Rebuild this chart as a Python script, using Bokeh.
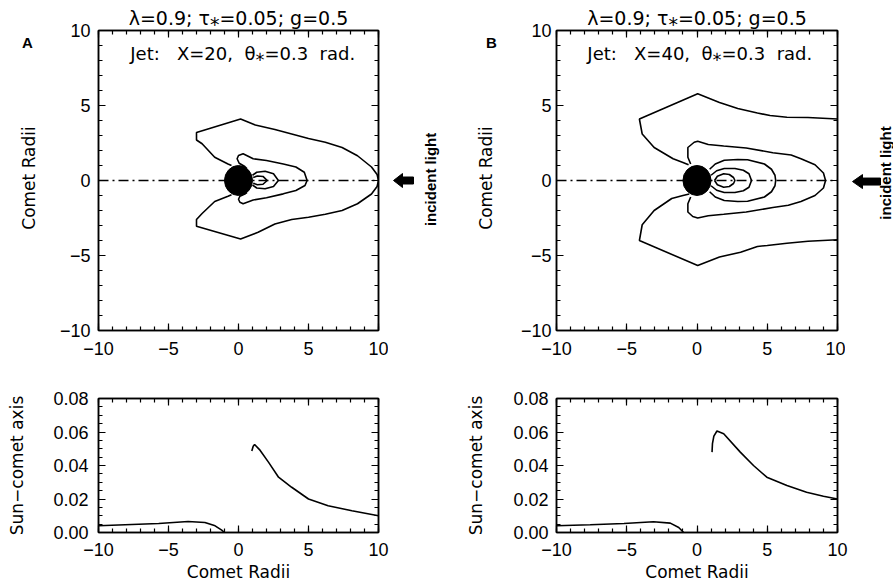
import math
from bokeh.plotting import figure
from bokeh.layouts import column, row
from bokeh.models import (FixedTicker, LinearAxis, Label, Span, Range1d, Title,
                          CustomJSTickFormatter)
from bokeh.embed import file_html
from bokeh.resources import INLINE

# ---------------- data ----------------
x_major = [-10, -5, 0, 5, 10]
x_minor = list(range(-10, 11))
y_top_major = [-10, -5, 0, 5, 10]
y_top_minor = list(range(-10, 11))
y_bot_major = [0.0, 0.02, 0.04, 0.06, 0.08]
y_bot_minor = [0.005 * i for i in range(17)]

NB = "\u00a0"
panel_letters = ["A", "B"]
title_text = "λ=0.9; τ⁎=0.05; g=0.5"
jet_texts = ["Jet:" + NB * 3 + "X=20, " + NB + "θ⁎=0.3 " + NB + "rad.",
             "Jet:" + NB * 3 + "X=40, " + NB + "θ⁎=0.3 " + NB + "rad."]
light_text = "incident light"
y_label_top = "Comet Radii"
y_label_bot = "Sun\u2212comet axis"
x_label_bot = "Comet Radii"

nucleus_x = [0.0]
nucleus_y = [0.0]
nucleus_d = [2.0]

# Panel A contours (intensity levels, outer -> inner)
a_c1_x = [-0.5, -0.75, -1.7, -2.6, -3.0, -3.0, 0.15, 1.2, 2.6, 3.8, 5.0, 6.2, 7.4, 8.5, 9.5, 9.9, 10.0,
          9.9, 9.5, 8.5, 7.4, 6.2, 5.0, 3.8, 2.6, 1.4, 0.15, -3.0, -3.0, -2.6, -1.7, -0.75, -0.5]
a_c1_y = [1.0, 1.1, 1.55, 2.45, 2.7, 3.2, 4.1, 3.7, 3.4, 3.1, 2.8, 2.55, 2.2, 1.65, 0.9, 0.4, 0.0,
          -0.4, -0.9, -1.55, -2.0, -2.25, -2.45, -2.6, -2.9, -3.45, -3.9, -3.05, -2.6, -2.2, -1.4, -1.05, -0.95]
a_c2_x = [0.6, 0.45, 0.05, -0.1, 0.0, 0.33, 1.05, 2.0, 3.2, 4.1, 4.7, 4.9,
          4.75, 4.1, 3.2, 2.0, 1.05, 0.33, 0.1, 0.0, 0.1, 0.45, 0.6]
a_c2_y = [0.8, 0.93, 1.15, 1.45, 1.67, 1.78, 1.45, 1.33, 1.1, 0.9, 0.55, 0.0,
          -0.33, -0.67, -0.89, -1.15, -1.3, -1.55, -1.45, -1.25, -1.05, -0.9, -0.8]
a_c3_x = [1.0, 1.3, 1.9, 2.5, 2.85, 2.5, 1.9, 1.3, 1.0]
a_c3_y = [0.35, 0.55, 0.62, 0.45, 0.0, -0.4, -0.55, -0.5, -0.3]
a_c4_x = [1.05, 1.35, 1.75, 2.05, 1.75, 1.35, 1.05]
a_c4_y = [0.2, 0.3, 0.27, 0.0, -0.25, -0.28, -0.18]

# Panel B contours
b_c1u_x = [10.4, 10.0, 7.9, 6.4, 5.2, 4.3, 2.9, 1.6, 0.05, -4.1, -3.9, -3.05, -1.7, -1.0, -0.6]
b_c1u_y = [4.1, 4.1, 4.2, 4.22, 4.33, 4.5, 4.8, 5.2, 5.78, 4.1, 3.1, 2.2, 1.45, 1.2, 1.05]
b_c1l_x = [-0.55, -1.0, -1.8, -3.05, -3.9, -4.1, 0.05, 1.6, 3.1, 4.3, 5.0, 6.4, 7.9, 10.0, 10.4]
b_c1l_y = [-0.9, -1.0, -1.2, -2.0, -2.95, -4.0, -5.67, -5.1, -4.78, -4.4, -4.33, -4.18, -4.05, -3.95, -3.95]
b_c2_x = [-0.45, -0.65, -0.65, -0.2, 0.05, 0.8, 1.9, 3.5, 5.4, 6.7, 7.4, 8.4, 9.0, 9.15,
          9.0, 8.4, 7.4, 6.5, 5.4, 3.5, 1.9, 0.8, 0.05, -0.3, -0.65, -0.65, -0.45]
b_c2_y = [1.1, 1.55, 2.2, 2.55, 2.62, 2.4, 2.3, 2.17, 1.85, 1.7, 1.45, 1.05, 0.5, 0.0,
          -0.5, -1.0, -1.4, -1.65, -1.8, -2.1, -2.25, -2.35, -2.5, -2.4, -2.1, -1.55, -1.1]
b_c3_x = [0.9, 1.3, 1.94, 2.9, 3.6, 4.8, 5.3, 5.55, 5.6, 5.55, 5.3, 4.8, 3.6, 2.9, 1.94, 1.3, 0.9]
b_c3_y = [0.75, 1.1, 1.35, 1.4, 1.38, 1.1, 0.75, 0.35, 0.0, -0.35, -0.75, -1.1, -1.38, -1.4, -1.33, -1.1, -0.75]
b_c4_x = [1.0, 1.4, 1.94, 2.7, 3.3, 3.7, 3.88, 3.7, 3.3, 2.7, 1.94, 1.4, 1.0]
b_c4_y = [0.35, 0.65, 0.8, 0.8, 0.68, 0.45, 0.0, -0.45, -0.68, -0.8, -0.8, -0.65, -0.35]
b_c5_x = [1.25, 1.45, 1.9, 2.3, 2.6, 2.7, 2.6, 2.3, 1.9, 1.45, 1.25]
b_c5_y = [0.0, 0.28, 0.45, 0.4, 0.2, 0.0, -0.2, -0.4, -0.45, -0.28, 0.0]

# Lower panels: brightness along the sun-comet axis
a_left_x = [-10, -8.1, -5.7, -3.6, -2.4, -1.67, -1.2, -1.0]
a_left_y = [0.004, 0.0046, 0.0054, 0.0066, 0.006, 0.004, 0.0014, 0.0]
a_right_x = [0.95, 1.05, 1.15, 1.55, 2.14, 2.86, 3.8, 5.0, 6.4, 8.1, 10.0]
a_right_y = [0.0486, 0.0515, 0.0525, 0.049, 0.042, 0.033, 0.027, 0.020, 0.016, 0.013, 0.010]
b_left_x = [-10, -7.6, -5.2, -3.1, -1.9, -1.3, -0.95]
b_left_y = [0.004, 0.0046, 0.0054, 0.0064, 0.0056, 0.003, 0.0]
b_right_x = [1.07, 1.1, 1.2, 1.42, 1.9, 3.08, 4.02, 4.97, 6.4, 7.8, 9.0, 10.0]
b_right_y = [0.048, 0.053, 0.0575, 0.0606, 0.059, 0.048, 0.040, 0.033, 0.028, 0.024, 0.0216, 0.020]

# ---------------- styling helpers ----------------
TICK_FONT = "Liberation Sans"
TEXT_FONT = "DejaVu Sans"
LW = 1.6
TOP_BT, TOP_BB, TOP_H = 30, 34, 364
PX = 15.0                       # pixels per comet radius (vertical) in the upper panels
STRIP_Y = (-(TOP_H - TOP_BT - 150) / PX, (TOP_BT + 150) / PX)   # whole-strip range, 0 at axis

minus_fmt = "return tick < 0 ? '\u2212' + Math.abs(tick) : tick.toString();"
fixed2_fmt = "return tick.toFixed(2);"


def make_axis(ticks, minor, fmt, show_labels, label=None, label_standoff=5, tick_standoff=8):
    ax = LinearAxis(ticker=FixedTicker(ticks=ticks, minor_ticks=minor),
                    formatter=CustomJSTickFormatter(code=fmt))
    ax.axis_line_color = "black"
    ax.axis_line_width = 1.5
    ax.major_tick_in = 7
    ax.major_tick_out = 0
    ax.minor_tick_in = 4
    ax.minor_tick_out = 0
    ax.major_tick_line_color = "black"
    ax.minor_tick_line_color = "black"
    ax.major_tick_line_width = 1.2
    ax.minor_tick_line_width = 1.2
    if show_labels:
        ax.major_label_text_font = TICK_FONT
        ax.major_label_text_font_size = "18px"
        ax.major_label_text_color = "black"
        ax.major_label_standoff = tick_standoff
    else:
        ax.major_label_text_font_size = "0px"
        ax.major_label_text_alpha = 0
        ax.major_label_standoff = 0
    if label:
        ax.axis_label = label
        ax.axis_label_text_font = TEXT_FONT
        ax.axis_label_text_font_size = "17px"
        ax.axis_label_text_font_style = "normal"
        ax.axis_label_text_color = "black"
        ax.axis_label_standoff = label_standoff
    return ax


def base_fig(width, height, bl, br, bt, bb, xr, yr):
    p = figure(width=width, height=height, x_range=Range1d(*xr), y_range=Range1d(*yr),
               output_backend="svg", toolbar_location=None, title=None,
               x_axis_type=None, y_axis_type=None, min_border=0,
               min_border_left=bl, min_border_right=br, min_border_top=bt, min_border_bottom=bb)
    p.outline_line_color = "black"
    p.outline_line_width = 1.5
    p.background_fill_color = "white"
    p.border_fill_color = "white"
    return p


def top_panel(width, bl, br, contours, jet_text, jet_x, ytick_standoff):
    p = base_fig(width, TOP_H, bl, br, TOP_BT, TOP_BB, (-10, 10), (-10, 10))
    p.add_layout(make_axis(x_major, x_minor, minus_fmt, True, tick_standoff=11), "below")
    p.add_layout(make_axis(y_top_major, y_top_minor, minus_fmt, True,
                           tick_standoff=ytick_standoff), "left")
    p.add_layout(make_axis(x_major, x_minor, minus_fmt, False), "above")
    p.add_layout(make_axis(y_top_major, y_top_minor, minus_fmt, False), "right")
    ttl = Title(text=title_text, align="center", standoff=4)
    ttl.text_font = TEXT_FONT
    ttl.text_font_size = "19px"
    ttl.text_font_style = "normal"
    ttl.text_color = "black"
    p.add_layout(ttl, "above")
    for cx, cy in contours:
        p.line(cx, cy, line_color="black", line_width=LW)
    p.ellipse(x=nucleus_x, y=nucleus_y, width=nucleus_d, height=nucleus_d,
              fill_color="black", line_color="black")
    p.add_layout(Span(location=0, dimension="width", line_color="black",
                      line_width=1.5, line_dash="10 4 2 4"))
    p.add_layout(Label(x=jet_x, y=8.5, text=jet_text, text_font=TEXT_FONT,
                       text_font_size="18px", text_align="center",
                       text_baseline="middle", text_color="black"))
    return p


def left_strip(width, letter, lx, ax_x):
    # panel letter and the y-axis title of the upper panel (x in pixels of the strip)
    p = base_fig(width, TOP_H, 0, 0, 0, 0, (0, width), STRIP_Y)
    p.outline_line_color = None
    p.add_layout(Label(x=lx, y=(TOP_BT + 150 - 15) / PX, text=letter,
                       text_font="Liberation Sans", text_font_size="15px",
                       text_font_style="bold", text_align="center",
                       text_baseline="middle", text_color="black"))
    p.add_layout(Label(x=ax_x, y=0.07, text=y_label_top, angle=math.pi / 2,
                       text_font=TEXT_FONT, text_font_size="17px",
                       text_align="center", text_baseline="middle", text_color="black"))
    return p


def side_panel(width, tip, base, end, cy, tx, ty):
    # arrow showing the direction of the incident sunlight, plus its caption
    p = base_fig(width, TOP_H, 0, 0, TOP_BT, TOP_BB, (0, width), (-10, 10))
    p.outline_line_color = None
    hh, hs = 7 / PX, 3.5 / PX
    p.patch([tip, base, base, end, end, base, base],
            [cy, cy + hh, cy + hs, cy + hs, cy - hs, cy - hs, cy - hh],
            fill_color="black", line_color="black", line_width=1)
    p.add_layout(Label(x=tx, y=ty, text=light_text, angle=math.pi / 2,
                       text_font="Liberation Sans", text_font_size="15px",
                       text_font_style="bold", text_align="center",
                       text_baseline="middle", text_color="black"))
    return p


def bottom_panel(width, bl, br, curves, ylab_standoff, ytick_standoff):
    p = base_fig(width, 220, bl, br, 34, 52, (-10, 10), (0.0, 0.08))
    p.add_layout(make_axis(x_major, x_minor, minus_fmt, True, label=x_label_bot,
                           label_standoff=3, tick_standoff=10), "below")
    p.add_layout(make_axis(y_bot_major, y_bot_minor, fixed2_fmt, True, label=y_label_bot,
                           label_standoff=ylab_standoff, tick_standoff=ytick_standoff), "left")
    p.add_layout(make_axis(x_major, x_minor, minus_fmt, False), "above")
    p.add_layout(make_axis(y_bot_major, y_bot_minor, fixed2_fmt, False), "right")
    for cx, cy in curves:
        p.line(cx, cy, line_color="black", line_width=LW)
    return p


leftA = left_strip(50, panel_letters[0], 27, 28)
topA = top_panel(338, 48, 10,
                 [(a_c1_x, a_c1_y), (a_c2_x, a_c2_y), (a_c3_x, a_c3_y), (a_c4_x, a_c4_y)],
                 jet_texts[0], 0.3, 8)
sideA = side_panel(52, 5, 14, 25, 0.0, 42, 0.07)
leftB = left_strip(65, panel_letters[1], 51, 45)
topB = top_panel(340, 51, 8,
                 [(b_c1u_x, b_c1u_y), (b_c1l_x, b_c1l_y), (b_c2_x, b_c2_y), (b_c3_x, b_c3_y),
                  (b_c4_x, b_c4_y), (b_c5_x, b_c5_y)],
                 jet_texts[1], 0.2, 5)
sideB = side_panel(48, 7, 17, 35, -0.07, 40, 0.5)
botA = bottom_panel(440, 98, 62, [(a_left_x, a_left_y), (a_right_x, a_right_y)], 23, 10)
botB = bottom_panel(453, 116, 56, [(b_left_x, b_left_y), (b_right_x, b_right_y)], 24, 8)

layout = column(row(leftA, topA, sideA, leftB, topB, sideB), row(botA, botB))
open("out.html", "w").write(file_html(layout, INLINE))
